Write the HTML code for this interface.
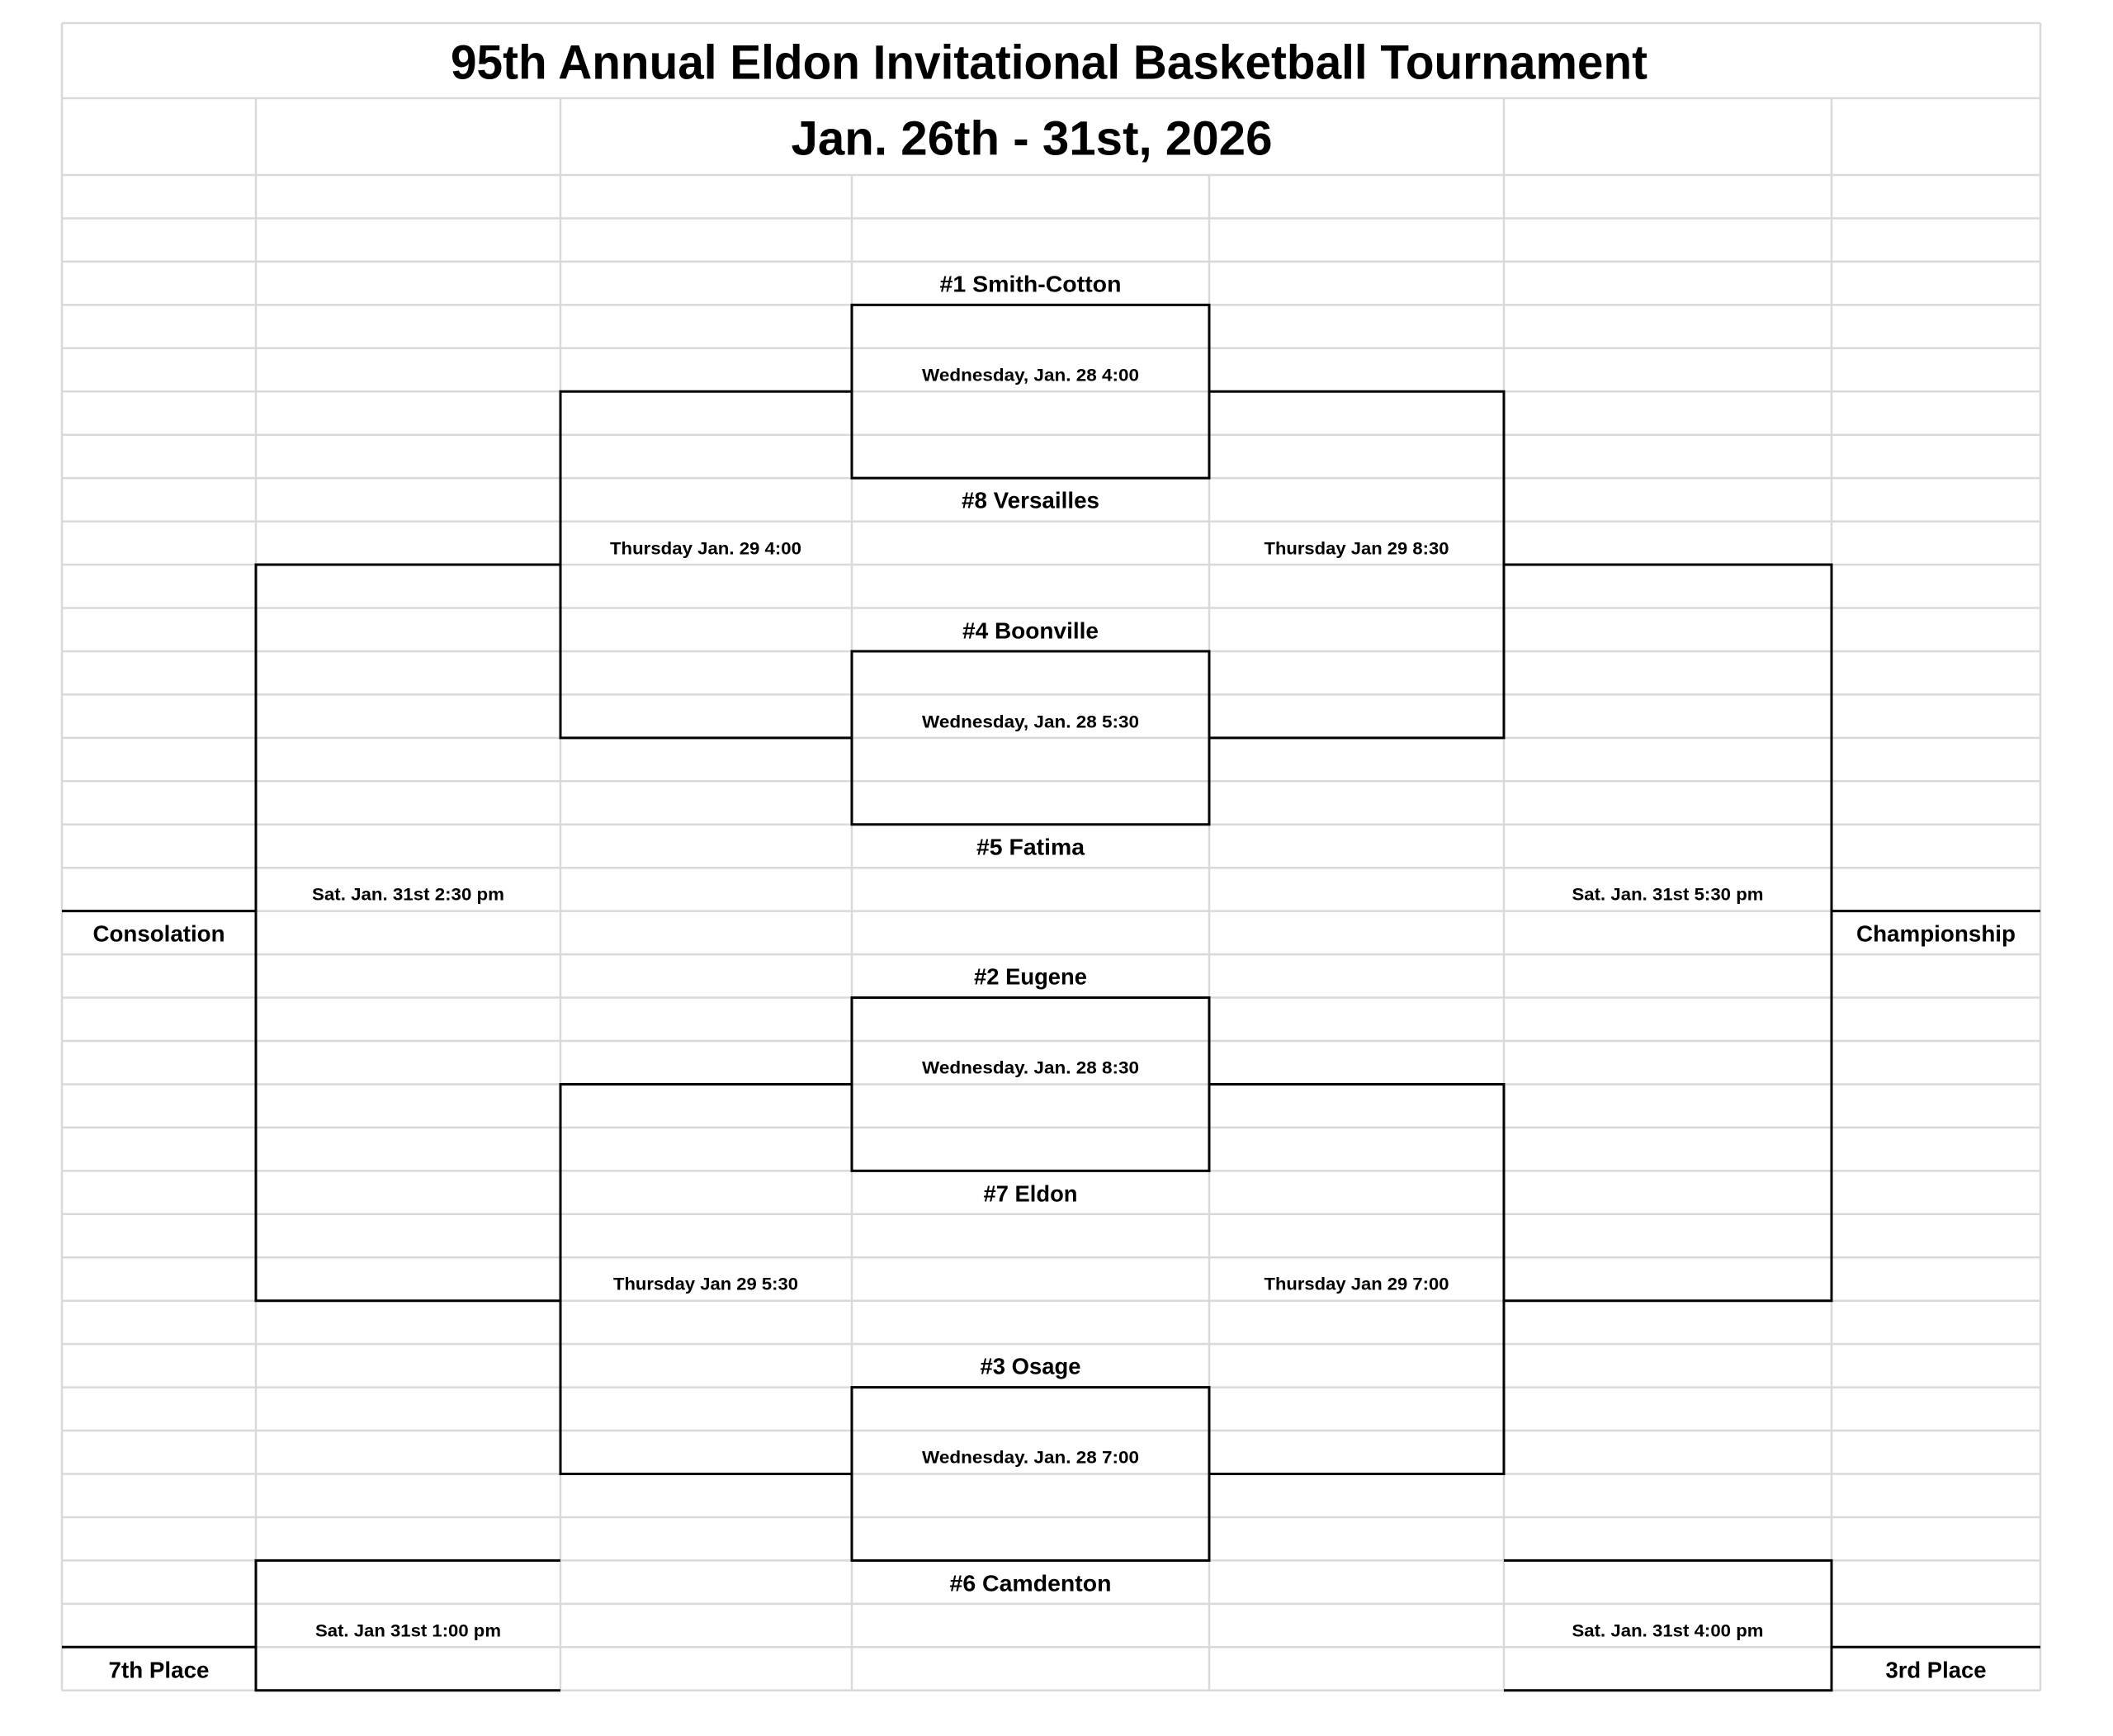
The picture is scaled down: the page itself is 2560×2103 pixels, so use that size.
<!DOCTYPE html>
<html><head><meta charset="utf-8"><style>html,body{margin:0;padding:0;background:#fff}svg{display:block}</style></head>
<body>
<svg width="2560" height="2103" viewBox="0 0 2560 2103" xmlns="http://www.w3.org/2000/svg" font-family="Liberation Sans, sans-serif" font-weight="bold" text-anchor="middle" dominant-baseline="central">
<rect width="2560" height="2103" fill="#fff"/>
<g stroke="#d9d9d9" stroke-width="2.5" fill="none">
<path d="M75 28H2472M75 119H2472M75 212H2472M75 264.45H2472M75 316.9H2472M75 369.35H2472M75 421.8H2472M75 474.25H2472M75 526.7H2472M75 579.15H2472M75 631.6H2472M75 684.05H2472M75 736.5H2472M75 788.95H2472M75 841.4H2472M75 893.85H2472M75 946.3H2472M75 998.75H2472M75 1051.2H2472M75 1103.65H2472M75 1156.1H2472M75 1208.55H2472M75 1261H2472M75 1313.45H2472M75 1365.9H2472M75 1418.35H2472M75 1470.8H2472M75 1523.25H2472M75 1575.7H2472M75 1628.15H2472M75 1680.6H2472M75 1733.05H2472M75 1785.5H2472M75 1837.95H2472M75 1890.4H2472M75 1942.85H2472M75 1995.3H2472M75 2047.75H2472"/>
<path d="M75 28V2048M2472 28V2048M310 119V2048M679 119V2048M1822 119V2048M2219 119V2048M1032 212V2048M1465 212V2048"/>
</g>
<g stroke="#000" stroke-width="3" fill="none">
<rect x="1032" y="369.35" width="433" height="209.8"/>
<rect x="1032" y="788.95" width="433" height="209.8"/>
<rect x="1032" y="1208.55" width="433" height="209.8"/>
<rect x="1032" y="1680.6" width="433" height="209.8"/>
<path d="M1032 474.25H679V893.85H1032"/>
<path d="M1465 474.25H1822V893.85H1465"/>
<path d="M1032 1313.45H679V1785.5H1032"/>
<path d="M1465 1313.45H1822V1785.5H1465"/>
<path d="M679 684.05H310V1575.7H679"/>
<path d="M1822 684.05H2219V1575.7H1822"/>
<path d="M75 1103.65H310M2219 1103.65H2472"/>
<path d="M679 1890.4H310V2047.75H679"/>
<path d="M1822 1890.4H2219V2047.75H1822"/>
<path d="M75 1995.3H310M2219 1995.3H2472"/>
</g>
<g fill="#000">
<text x="1271" y="76" font-size="58" textLength="1450" lengthAdjust="spacingAndGlyphs">95th Annual Eldon Invitational Basketball Tournament</text>
<text x="1250" y="168" font-size="58" textLength="583" lengthAdjust="spacingAndGlyphs">Jan. 26th - 31st,  2026</text>
<g font-size="28">
<text x="1248.5" y="344" textLength="220" lengthAdjust="spacingAndGlyphs">#1 Smith-Cotton</text>
<text x="1248.5" y="606" textLength="167" lengthAdjust="spacingAndGlyphs">#8 Versailles</text>
<text x="1248.5" y="764" textLength="165" lengthAdjust="spacingAndGlyphs">#4 Boonville</text>
<text x="1248.5" y="1026" textLength="131" lengthAdjust="spacingAndGlyphs">#5 Fatima</text>
<text x="1248.5" y="1183" textLength="137" lengthAdjust="spacingAndGlyphs">#2 Eugene</text>
<text x="1248.5" y="1446" textLength="114" lengthAdjust="spacingAndGlyphs">#7 Eldon</text>
<text x="1248.5" y="1655" textLength="122" lengthAdjust="spacingAndGlyphs">#3 Osage</text>
<text x="1248.5" y="1918" textLength="196" lengthAdjust="spacingAndGlyphs">#6 Camdenton</text>
<text x="192.5" y="1131" textLength="160" lengthAdjust="spacingAndGlyphs">Consolation</text>
<text x="2345.5" y="1131" textLength="193" lengthAdjust="spacingAndGlyphs">Championship</text>
<text x="192.5" y="2023" textLength="122" lengthAdjust="spacingAndGlyphs">7th Place</text>
<text x="2345.5" y="2023" textLength="122" lengthAdjust="spacingAndGlyphs">3rd Place</text>
</g>
<g font-size="21">
<text x="1248.5" y="455" textLength="263" lengthAdjust="spacingAndGlyphs">Wednesday, Jan. 28 4:00</text>
<text x="1248.5" y="875" textLength="263" lengthAdjust="spacingAndGlyphs">Wednesday, Jan. 28 5:30</text>
<text x="1248.5" y="1294" textLength="263" lengthAdjust="spacingAndGlyphs">Wednesday. Jan. 28 8:30</text>
<text x="1248.5" y="1766" textLength="263" lengthAdjust="spacingAndGlyphs">Wednesday. Jan. 28 7:00</text>
<text x="855" y="665" textLength="232" lengthAdjust="spacingAndGlyphs">Thursday Jan. 29 4:00</text>
<text x="1643.5" y="665" textLength="224" lengthAdjust="spacingAndGlyphs">Thursday Jan 29 8:30</text>
<text x="855" y="1556" textLength="224" lengthAdjust="spacingAndGlyphs">Thursday Jan 29 5:30</text>
<text x="1643.5" y="1556" textLength="224" lengthAdjust="spacingAndGlyphs">Thursday Jan 29 7:00</text>
<text x="494.5" y="1084" textLength="233" lengthAdjust="spacingAndGlyphs">Sat. Jan. 31st 2:30 pm</text>
<text x="2020.5" y="1084" textLength="232" lengthAdjust="spacingAndGlyphs">Sat. Jan. 31st 5:30 pm</text>
<text x="494.5" y="1976" textLength="225" lengthAdjust="spacingAndGlyphs">Sat. Jan 31st 1:00 pm</text>
<text x="2020.5" y="1976" textLength="232" lengthAdjust="spacingAndGlyphs">Sat. Jan. 31st 4:00 pm</text>
</g>
</g>
</svg>
</body></html>
